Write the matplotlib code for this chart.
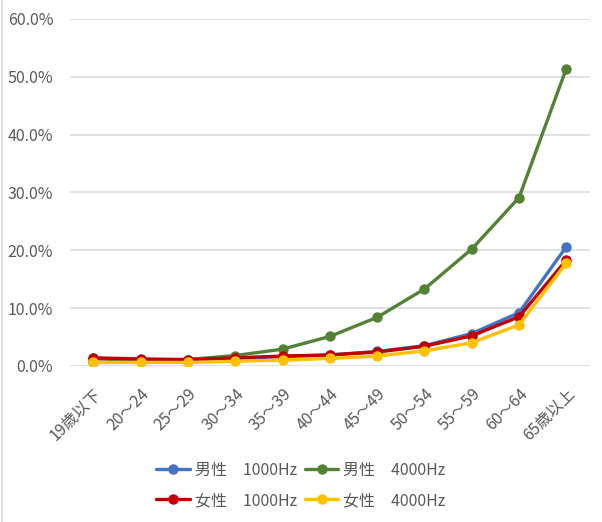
"""
Hearing loss prevalence by age group, line chart with matplotlib.
"""

import matplotlib.pyplot as plt
from matplotlib.ticker import PercentFormatter

plt.rcParams["font.family"] = ["Noto Sans CJK JP", "DejaVu Sans"]

age_groups = ["19歳以下", "20～24", "25～29", "30～34", "35～39", "40～44",
              "45～49", "50～54", "55～59", "60～64", "65歳以上"]

# Share of examinees with findings, in percent
male_1000 = [1.3, 1.1, 1.0, 1.3, 1.6, 1.9, 2.5, 3.5, 5.6, 9.2, 20.6]
male_4000 = [0.6, 1.0, 1.1, 1.8, 2.9, 5.1, 8.4, 13.3, 20.2, 29.1, 51.4]
female_1000 = [1.4, 1.2, 1.1, 1.4, 1.7, 1.9, 2.4, 3.4, 5.2, 8.5, 18.3]
female_4000 = [0.6, 0.6, 0.6, 0.8, 1.0, 1.3, 1.7, 2.6, 4.0, 7.1, 17.8]

series = [
    ("男性　1000Hz", male_1000, "#4472C4"),
    ("男性　4000Hz", male_4000, "#548235"),
    ("女性　1000Hz", female_1000, "#C00000"),
    ("女性　4000Hz", female_4000, "#FFC000"),
]


def main() -> None:
    fig = plt.figure(figsize=(6.02, 5.22), dpi=100)
    ax = fig.add_axes([0.116, 0.299, 0.864, 0.665])

    x = list(range(len(age_groups)))
    lines = []
    for label, values, color in series:
        (line,) = ax.plot(x, values, color=color, linewidth=2.4, marker="o",
                          markersize=6.5, label=label,
                          solid_capstyle="round")
        lines.append(line)

    ax.set_xlim(-0.5, len(age_groups) - 0.5)
    ax.set_ylim(0, 60)
    ax.set_yticks(range(0, 61, 10))
    ax.yaxis.set_major_formatter(PercentFormatter(decimals=1))
    ax.set_xticks(x)
    ax.set_xticklabels(age_groups, rotation=45, ha="right",
                       rotation_mode="anchor")

    ax.grid(axis="y", color="#D9D9D9", linewidth=1.1)
    ax.set_axisbelow(True)
    for spine in ax.spines.values():
        spine.set_visible(False)
    ax.tick_params(axis="both", length=0, colors="#595959", labelsize=11.5)
    ax.tick_params(axis="y", pad=12)
    ax.tick_params(axis="x", pad=14)

    # Legend fills column-wise, so order handles to read row by row
    order = [0, 2, 1, 3]
    fig.legend([lines[i] for i in order], [series[i][0] for i in order],
               loc="center", bbox_to_anchor=(0.5, 0.07), ncol=2,
               frameon=False, fontsize=11.5, labelcolor="#595959",
               handlelength=2.1, columnspacing=0.5, handletextpad=0.3,
               labelspacing=0.8)

    # Light frame line on the left side of the chart area
    fig.add_artist(plt.Line2D([0.004, 0.004], [0, 1], color="#D9D9D9",
                              linewidth=1.2, transform=fig.transFigure))

    fig.savefig("out.png", dpi=100)
    plt.close(fig)


if __name__ == "__main__":
    main()
